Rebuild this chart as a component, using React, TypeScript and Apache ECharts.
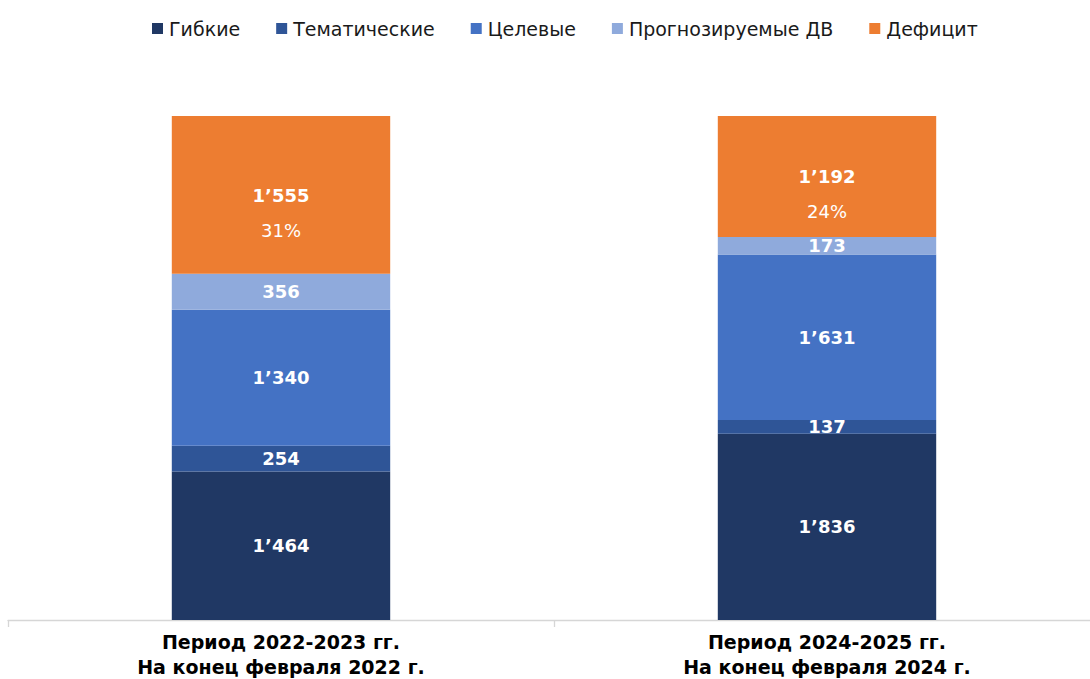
import React, { useEffect, useRef } from "react";
import * as echarts from "echarts";

const categories = [
  "Период 2022-2023 гг.\nНа конец февраля 2022 г.",
  "Период 2024-2025 гг.\nНа конец февраля 2024 г.",
];
const seriesNames = ["Гибкие", "Тематические", "Целевые", "Прогнозируемые ДВ", "Дефицит"];
const flexible = [1464, 1836];
const thematic = [254, 137];
const target = [1340, 1631];
const forecast = [356, 173];
const deficit = [1555, 1192];
const deficitShare = ["31%", "24%"];
const colors = ["#203864", "#2F5597", "#4472C4", "#8FAADC", "#ED7D31"];

const fmt = (v: number) => {
  const s = String(Math.round(v));
  return s.replace(/\B(?=(\d{3})+(?!\d))/g, "\u2019");
};

const FONT = "DejaVu Sans, Liberation Sans, sans-serif";

export default function App() {
  const ref = useRef<HTMLDivElement>(null);
  useEffect(() => {
    document.body.style.margin = "0";
    document.body.style.overflow = "hidden";
    const chart = echarts.init(ref.current!, null, { renderer: "svg" });
    const values = [flexible, thematic, target, forecast, deficit];
    const total = flexible.map((_, i) => values.reduce((s, arr) => s + arr[i], 0));
    const maxTotal = Math.max(...total);
    const labelFont = {
      color: "#fff",
      fontFamily: FONT,
      fontWeight: "bold" as const,
      fontSize: 18,
    };
    const series = values.map((arr, si) => ({
      name: seriesNames[si],
      type: "bar",
      stack: "total",
      barWidth: "40%",
      itemStyle: { color: colors[si] },
      data: arr,
      label:
        si === 4
          ? {
              show: true,
              position: "inside",
              offset: [0, 18],
              formatter: (p: any) => `{a|${fmt(p.value)}}\n{b|${deficitShare[p.dataIndex]}}`,
              rich: {
                a: { ...labelFont, lineHeight: 35 },
                b: {
                  color: "#fff",
                  fontFamily: FONT,
                  fontSize: 18,
                  lineHeight: 35,
                },
              },
            }
          : {
              show: true,
              position: "inside",
              ...labelFont,
              formatter: (p: any) => fmt(p.value),
            },
    }));
    chart.setOption({
      animation: false,
      legend: {
        top: 14,
        left: 147,
        itemWidth: 11,
        itemHeight: 11,
        itemGap: 36,
        icon: "rect",
        textStyle: {
          fontFamily: FONT,
          fontSize: 19,
          color: "#1a1a1a",
          padding: [0, 0, 0, 1],
        },
        data: seriesNames,
      },
      grid: { left: 8, right: 0, top: 116, bottom: 56 },
      xAxis: {
        type: "category",
        data: categories,
        axisLine: { lineStyle: { color: "#D6D6D6", width: 1.3 } },
        axisTick: { show: true, length: 7, lineStyle: { color: "#D6D6D6", width: 1.3 } },
        axisLabel: {
          margin: 9,
          fontFamily: FONT,
          fontWeight: "bold",
          fontSize: 19,
          lineHeight: 25,
          color: "#000",
        },
      },
      yAxis: { type: "value", min: 0, max: maxTotal, show: false, splitLine: { show: false } },
      series,
    });
    return () => chart.dispose();
  }, []);
  return (
    <div
      ref={ref}
      style={{ position: "absolute", left: 0, top: 0, width: 1100, height: 679 }}
    />
  );
}
